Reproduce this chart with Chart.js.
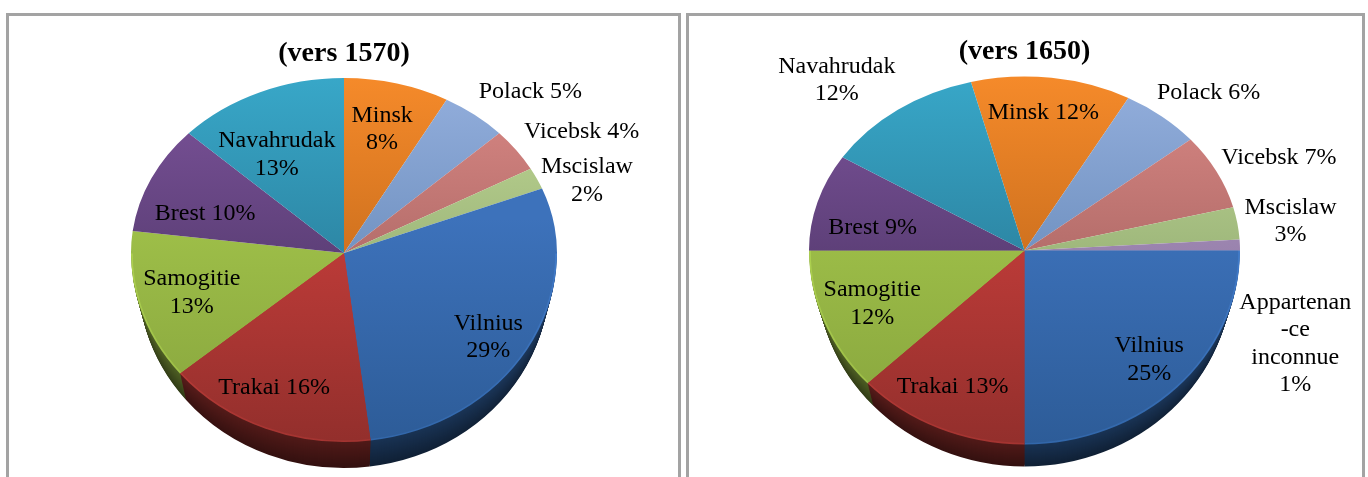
<!DOCTYPE html>
<html>
<head>
<meta charset="utf-8">
<title>Palatinats</title>
<script src="https://cdn.jsdelivr.net/npm/chart.js@4/dist/chart.umd.min.js"></script>
<style>
    html, body { margin: 0; background: #fff; overflow: hidden; }
    .frame { position: absolute; top: 13px; height: 480px; box-sizing: border-box; border: 3px solid #a3a3a3; }
    #frameLeft { left: 6px; width: 675px; }
    #frameRight { left: 686px; width: 679px; }
    canvas { position: absolute; top: 0; filter: blur(0.45px); }
    #pie1570 { left: 0; }
    #pie1650 { left: 684px; }
</style>
</head>
<body>
<div class="frame" id="frameLeft"></div>
<div class="frame" id="frameRight"></div>
<canvas id="pie1570" width="684" height="477"></canvas>
<canvas id="pie1650" width="684" height="477"></canvas>
<script>
const categories1570 = ['Minsk', 'Polack', 'Vicebsk', 'Mscislaw', 'Vilnius', 'Trakai', 'Samogitie', 'Brest', 'Navahrudak']
const values1570 = [8, 5, 4, 2, 29, 16, 13, 10, 13]
const categories1650 = ['Minsk', 'Polack', 'Vicebsk', 'Mscislaw', 'Appartenan\n-ce\ninconnue', 'Vilnius', 'Trakai', 'Samogitie', 'Brest', 'Navahrudak']
const values1650 = [12, 6, 7, 3, 1, 25, 13, 12, 9, 12]

// top and bottom colour of each palatinate
const sliceColors = {
    Minsk: ['#f58a2a', '#d0721f'],
    Polack: ['#94afdd', '#7293c2'],
    Vicebsk: ['#db8986', '#b56e6b'],
    Mscislaw: ['#c3da96', '#9fb87c'],
    Appartenan: ['#b49ac8', '#9a83ae'],
    Vilnius: ['#3d72bb', '#2d5c98'],
    Trakai: ['#c33d3a', '#932f2c'],
    Samogitie: ['#9fc049', '#86a33d'],
    Brest: ['#7d549c', '#5e4079'],
    Navahrudak: ['#38a7c8', '#2d87a5']
}

// label nudges from the point at 70% of each slice's radius
const offsets1570 = [[1, -5], [95, -65], [117, -49], [108, -20], [16, 17], [-15, 12], [-9, 3], [-4, 13], [-8, 14]]
const offsets1650 = [[0, -17], [88, -64], [120, -38], [117, -10], [120, 97], [18, 13], [-12, 12], [-12, 3], [-7, 11], [-99, -72]]
const separators1570 = ['\n', ' ', ' ', '\n', '\n', ' ', '\n', ' ', '\n']
const separators1650 = [' ', ' ', ' ', '\n', '\n', '\n', ' ', '\n', ' ', '\n']

const makePie = (canvasId, title, categories, values, offsets, separators, setup) => {
    const total = values.reduce((a, b) => a + b, 0)

    const sliceFill = (c) => {
        const area = c.chart.chartArea
        if (!area) return '#888'
        const colors = sliceColors[categories[c.dataIndex].split('\n')[0]]
        const before = values.slice(0, c.dataIndex).reduce((a, b) => a + b, 0)
        const mid = (setup.rotation + 360 * (before + values[c.dataIndex] / 2) / total) * Math.PI / 180
        const midY = (area.top + area.bottom) / 2
        const r = (area.bottom - area.top) / 2
        const upper = Math.cos(mid) > 0
        const gradient = c.chart.ctx.createLinearGradient(0, upper ? midY - r : midY - r * 0.2, 0, upper ? midY : midY + r)
        gradient.addColorStop(0, colors[0])
        gradient.addColorStop(1, colors[1])
        return gradient
    }

    const drawSquashed = (chart, top, bottom, shiftY, scaleX, scaleY, filter) => {
        const ctx = chart.ctx
        const arcs = chart.getDatasetMeta(0).data
        const { x, y } = arcs[0]
        ctx.save()
        ctx.beginPath()
        ctx.rect(0, top, chart.width, bottom - top)
        ctx.clip()
        ctx.filter = filter
        ctx.translate(x, y + shiftY)
        ctx.scale(scaleX, scaleY)
        ctx.translate(-x, -y)
        arcs.forEach(arc => arc.draw(ctx))
        ctx.restore()
    }

    const pie3d = {
        id: 'pie3d',
        beforeDatasetsDraw(chart) {
            const arc = chart.getDatasetMeta(0).data[0]
            const r = arc.outerRadius
            const cy = arc.y
            const syTop = setup.ryTop / r
            const syBottom = setup.ryBottom / r
            // rim, deepest layer first
            for (let d = setup.depth; d >= 1; d--) {
                const t = d / setup.depth
                drawSquashed(chart, cy + d, chart.height, d, 1 - 0.035 * t, syBottom, `brightness(${0.55 - 0.2 * t})`)
            }
            // bevel and face
            drawSquashed(chart, cy, chart.height, 0, 1, syBottom, 'brightness(1.12)')
            drawSquashed(chart, cy, chart.height, 0, 0.992, syBottom * 0.992, 'none')
            drawSquashed(chart, 0, cy + 0.5, 0, 1, syTop, 'none')
            return false
        },
        afterDraw(chart) {
            const ctx = chart.ctx
            ctx.save()
            ctx.font = '24px "Liberation Serif"'
            ctx.fillStyle = '#000'
            ctx.textAlign = 'center'
            ctx.textBaseline = 'middle'
            chart.getDatasetMeta(0).data.forEach((arc, i) => {
                const mid = (arc.startAngle + arc.endAngle) / 2
                const ry = Math.sin(mid) < 0 ? setup.ryTop : setup.ryBottom
                const x = arc.x + 0.7 * arc.outerRadius * Math.cos(mid) + offsets[i][0]
                const y = arc.y + 0.7 * ry * Math.sin(mid) + offsets[i][1]
                const lines = (categories[i] + separators[i] + values[i] + '%').split('\n')
                lines.forEach((line, n) => {
                    ctx.fillText(line, x, y + (n - (lines.length - 1) / 2) * 27.5)
                })
            })
            ctx.restore()
        }
    }

    return new Chart(document.getElementById(canvasId), {
        type: 'pie',
        plugins: [pie3d],
        data: {
            labels: categories.map(name => name.replace(/\n-?/g, '')),
            datasets: [{ data: values, backgroundColor: sliceFill, borderWidth: 0 }]
        },
        options: {
            responsive: false,
            animation: false,
            rotation: setup.rotation,
            layout: { padding: setup.padding },
            plugins: {
                legend: { display: false },
                tooltip: { enabled: false },
                title: {
                    display: true,
                    text: title,
                    color: '#000',
                    font: { family: '"Liberation Serif"', size: 28, weight: 'bold', lineHeight: 1.2 },
                    padding: setup.titlePadding
                }
            }
        }
    })
}

makePie('pie1570', '(vers 1570)', categories1570, values1570, offsets1570, separators1570, {
    rotation: 0,
    ryTop: 175,
    ryBottom: 189,
    depth: 26,
    padding: { left: 131, right: 127, top: 0, bottom: 11 },
    titlePadding: { top: 37.4, bottom: -31 }
})

makePie('pie1650', '(vers 1650)', categories1650, values1650, offsets1650, separators1650, {
    rotation: -14.4,
    ryTop: 174,
    ryBottom: 194,
    depth: 22,
    padding: { left: 125, right: 128, top: 0, bottom: 11 },
    titlePadding: { top: 35.4, bottom: -34 }
})
</script>
</body>
</html>
